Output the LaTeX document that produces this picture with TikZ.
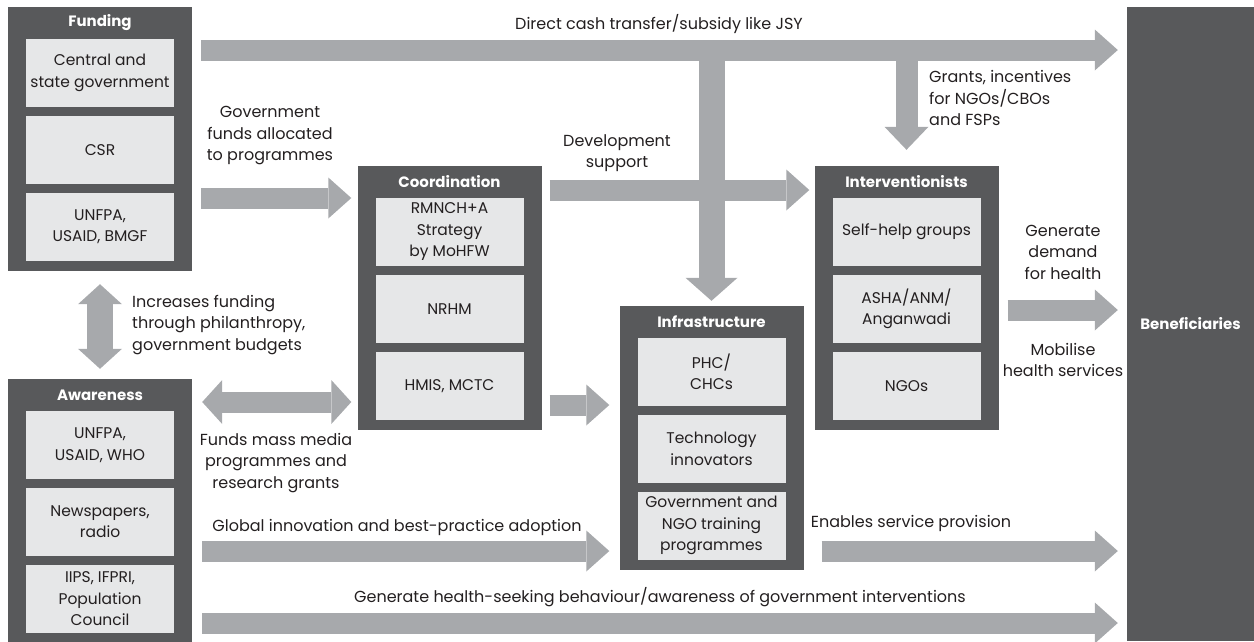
\documentclass[tikz,border=0pt]{standalone}
\usepackage{fontspec}
\setmainfont{Poppins}
\usetikzlibrary{positioning,arrows.meta}
\definecolor{boxgrey}{RGB}{88,89,91}
\definecolor{cellgrey}{RGB}{230,231,232}
\definecolor{arrowgrey}{RGB}{167,169,172}
\definecolor{inkgrey}{RGB}{35,31,32}
\tikzset{
  group/.style={fill=boxgrey, minimum width=184pt, minimum height=264pt, inner sep=0pt},
  grouptitle/.style={text=white, font=\bfseries\fontsize{15}{18}\selectfont, inner sep=0pt},
  cell/.style={fill=cellgrey, minimum width=148pt, minimum height=68pt, inner sep=0pt,
    align=center, text=inkgrey, font=\fontsize{15.5}{21.5}\selectfont},
  note/.style={align=center, text=inkgrey, font=\fontsize{16}{21.5}\selectfont, inner sep=0pt},
  flow/.style={draw=arrowgrey, line width=21pt, -{Triangle[length=23pt, width=41pt, line width=0pt]}},
  drop/.style={draw=arrowgrey, line width=#1, -{Triangle[length=23pt, width=2*#1, line width=0pt]}},
  dflow/.style={draw=arrowgrey, line width=21pt,
    {Triangle[length=20pt, width=44pt, line width=0pt]}-{Triangle[length=20pt, width=44pt, line width=0pt]}},
}
\begin{document}
\begin{tikzpicture}[x=1pt,y=-1pt]
\useasboundingbox (0,0) rectangle (1254,641);

\coordinate (yDirect) at (0,50);
\coordinate (yFunds) at (0,198);
\coordinate (yDev) at (0,190);
\coordinate (yDemand) at (0,310);
\coordinate (yMedia) at (0,402);
\coordinate (yInfra) at (0,405);
\coordinate (yGlobal) at (0,551);
\coordinate (yAware) at (0,623);

\node[group] (fund) at (100,139) {};
\node[grouptitle] at ([yshift=-16pt]fund.north) {Funding};
\node[cell, below=32pt of fund.north] (fund1) {Central and\\state government};
\node[cell, below=8.5pt of fund1] (fund2) {CSR};
\node[cell, below=8.5pt of fund2] (fund3) {UNFPA,\\USAID, BMGF};

\node[group] (aware) at (100,511) {};
\node[grouptitle] at ([yshift=-16pt]aware.north) {Awareness};
\node[cell, below=32pt of aware.north] (aware1) {UNFPA,\\USAID, WHO};
\node[cell, below=8.5pt of aware1] (aware2) {Newspapers,\\radio};
\node[cell, below=8.5pt of aware2] (aware3) {IIPS, IFPRI,\\Population\\Council};

\node[group] (coord) at (449.5,298) {};
\node[grouptitle] at ([yshift=-16pt]coord.north) {Coordination};
\node[cell, below=32pt of coord.north] (coord1) {RMNCH+A\\Strategy\\by MoHFW};
\node[cell, below=8.5pt of coord1] (coord2) {NRHM};
\node[cell, below=8.5pt of coord2] (coord3) {HMIS, MCTC};

\node[group] (infra) at (711.5,438) {};
\node[grouptitle] at ([yshift=-16pt]infra.north) {Infrastructure};
\node[cell, below=32pt of infra.north] (infra1) {PHC/\\CHCs};
\node[cell, below=8.5pt of infra1] (infra2) {Technology\\innovators};
\node[cell, below=8.5pt of infra2] (infra3) {Government and\\NGO training\\programmes};

\node[group] (interv) at (906.5,298) {};
\node[grouptitle] at ([yshift=-16pt]interv.north) {Interventionists};
\node[cell, below=32pt of interv.north] (interv1) {Self-help groups};
\node[cell, below=8.5pt of interv1] (interv2) {ASHA/ANM/\\Anganwadi};
\node[cell, below=8.5pt of interv2] (interv3) {NGOs};

\node[group, minimum width=127pt, minimum height=634pt, text=white,
  font=\bfseries\fontsize{15}{18}\selectfont] (benef) at (1190.5,324) {Beneficiaries};

\draw[flow, shorten <=9pt, shorten >=9pt] (fund.east |- yDirect) -- (benef.west |- yDirect);
\draw[drop=26pt, shorten >=5pt] (infra.north |- yDirect) -- (infra.north);
\draw[drop=22pt, shorten >=16pt] (interv.north |- yDirect) -- (interv.north);
\draw[flow, shorten <=9pt, shorten >=6pt] (fund.east |- yFunds) -- (coord.west |- yFunds);
\draw[flow, shorten <=8pt, shorten >=5pt] (coord.east |- yDev) -- (interv.west |- yDev);
\draw[flow, shorten <=8pt, shorten >=10pt] (coord.east |- yInfra) -- (infra.west |- yInfra);
\draw[dflow, shorten <=10pt, shorten >=6pt] (aware.east |- yMedia) -- (coord.west |- yMedia);
\draw[dflow, line width=26pt, shorten <=13pt, shorten >=10pt] (fund.south) -- (aware.north);
\draw[flow, shorten <=10pt, shorten >=10pt] (aware.east |- yGlobal) -- (infra.west |- yGlobal);
\draw[flow, shorten <=18pt, shorten >=9pt] (infra.east |- yGlobal) -- (benef.west |- yGlobal);
\draw[flow, shorten <=9pt, shorten >=9pt] (interv.east |- yDemand) -- (benef.west |- yDemand);
\draw[flow, shorten <=10pt, shorten >=9pt] (aware.east |- yAware) -- (benef.west |- yAware);

\node[note] (tDirect) at (659,24) {Direct cash transfer/subsidy like JSY};
\node[note] (tFunds) at (270,136) {Government\\funds allocated\\to programmes};
\node[note] (tDev) at (617,153) {Development\\support};
\node[note, anchor=west, align=left] (tGrants) at (929,98) {Grants, incentives\\for NGOs/CBOs\\and FSPs};
\node[note, anchor=west, align=left] (tPhil) at (132,325) {Increases funding\\through philanthropy,\\government budgets};
\node[note] (tMedia) at (276,463) {Funds mass media\\programmes and\\research grants};
\node[note] (tGlobal) at (397,527) {Global innovation and best-practice adoption};
\node[note] (tEnable) at (911,523) {Enables service provision};
\node[note] (tDemand) at (1063,252) {Generate\\demand\\for health};
\node[note] (tMobil) at (1063,360) {Mobilise\\health services};
\node[note] (tSeek) at (660,597) {Generate health-seeking behaviour/awareness of government interventions};
\end{tikzpicture}
\end{document}
